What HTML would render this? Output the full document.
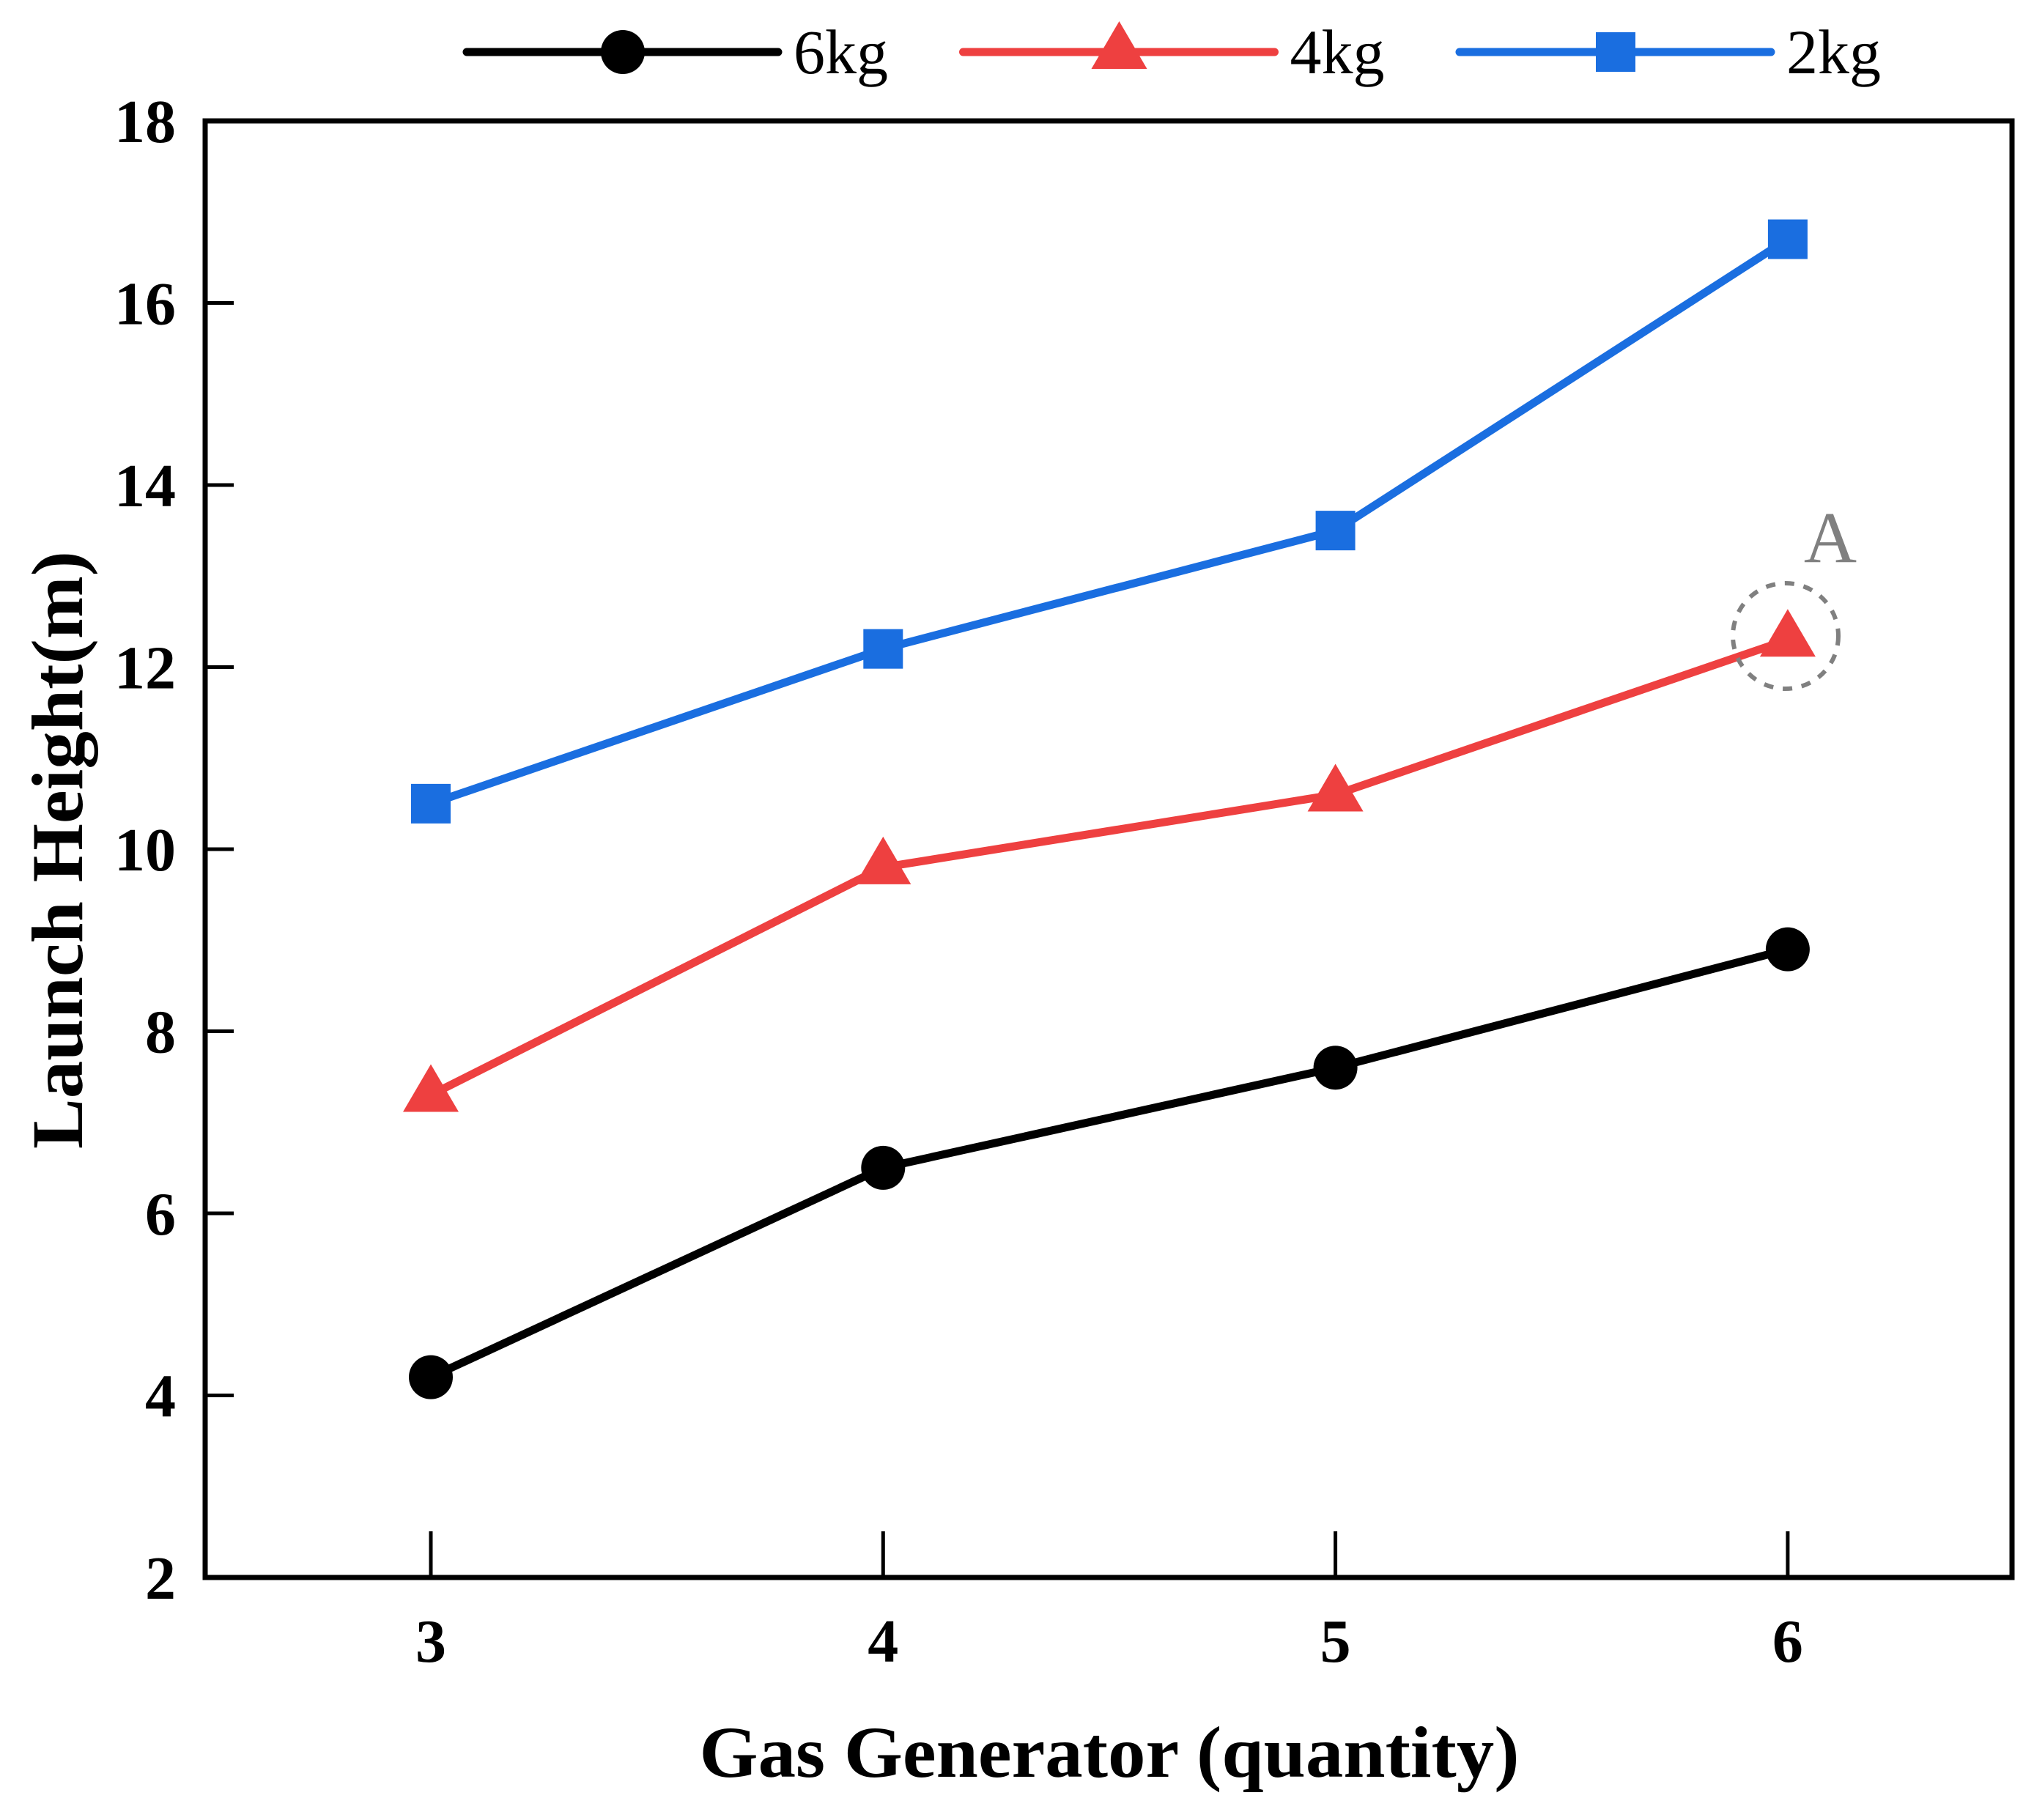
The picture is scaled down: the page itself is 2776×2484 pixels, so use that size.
<!DOCTYPE html>
<html><head><meta charset="utf-8">
<style>html,body{margin:0;padding:0;background:#fff;}svg{display:block;}svg text{font-family:"Liberation Serif", serif;}</style>
</head><body>
<svg id="chart" width="2776" height="2484" viewBox="0 0 2776 2484" xmlns="http://www.w3.org/2000/svg">
<rect x="0" y="0" width="2776" height="2484" fill="#fff"/>
<g id="plot"></g>
<rect x="280" y="165" width="2466" height="1988" fill="none" stroke="#000" stroke-width="7"/>
<text x="1514" y="2425" font-size="100" font-weight="bold" text-anchor="middle" textLength="1119" lengthAdjust="spacingAndGlyphs">Gas Generator (quantity)</text>
<text transform="translate(112,1160) rotate(-90)" font-size="100" font-weight="bold" text-anchor="middle" textLength="816" lengthAdjust="spacingAndGlyphs">Launch Height(m)</text>
<circle cx="2437" cy="868" r="72" fill="none" stroke="#808080" stroke-width="6" stroke-dasharray="13 13"/>
<text x="2498" y="767" font-size="100" fill="#808080" text-anchor="middle">A</text>
</svg>
<script>
const categories = [3, 4, 5, 6];
const series6kg = [4.2, 6.5, 7.6, 8.9];
const series4kg = [7.3, 9.8, 10.6, 12.3];
const series2kg = [10.5, 12.2, 13.5, 16.7];
const yTicks = [2, 4, 6, 8, 10, 12, 14, 16, 18];
const seriesNames = ["6kg", "4kg", "2kg"];

const NS = "http://www.w3.org/2000/svg";
const plot = document.getElementById("plot");
const svg = document.getElementById("chart");
function xs(v){ return 588 + (v - 3) * 617.3; }
function ys(v){ return 2153 - (v - 2) * 124.25; }
function mk(tag, attrs, parent){ const e = document.createElementNS(NS, tag); for (const k in attrs) e.setAttribute(k, attrs[k]); (parent||plot).appendChild(e); return e; }

yTicks.forEach(t => {
  const l = mk("line", {x1:280, x2:319, y1:ys(t), y2:ys(t), stroke:"#000", "stroke-width":5});
  
  
  const tx = mk("text", {x:240, y:ys(t)+29, "font-size":84, "font-weight":"bold", "text-anchor":"end"}, svg);
  tx.textContent = t;
  
  
});
categories.forEach(c => {
  const l = mk("line", {x1:xs(c), x2:xs(c), y1:2153, y2:2090, stroke:"#000", "stroke-width":5});
  
  
  const tx = mk("text", {x:xs(c), y:2268, "font-size":84, "font-weight":"bold", "text-anchor":"middle"}, svg);
  tx.textContent = c;
  
  
});

function marker(type, x, y, color, parent){
  let m;
  if (type === "circle") m = mk("circle", {cx:x, cy:y, r:30, fill:color}, parent);
  else if (type === "square") m = mk("rect", {x:x-27, y:y-27, width:54, height:54, fill:color}, parent);
  else m = mk("polygon", {points:`${x},${y-42} ${x+38},${y+23} ${x-38},${y+23}`, fill:color}, parent);
  return m;
}
const defs = [
  {vals: series6kg, color:"#000000", type:"circle"},
  {vals: series4kg, color:"#ee4040", type:"triangle"},
  {vals: series2kg, color:"#1a6ee0", type:"square"}
];
defs.forEach((d, i) => {
  const pts = categories.map((c, j) => xs(c) + "," + ys(d.vals[j])).join(" ");
  const pl = mk("polyline", {points:pts, fill:"none", stroke:d.color, "stroke-width":11, "stroke-linejoin":"round"});
  
  
  categories.forEach((c, j) => {
    const m = marker(d.type, xs(c), ys(d.vals[j]), d.color);
    
    
  });
  const lx = 637 + i * 677.5;
  const g = mk("g", {}, svg);
  
  
  mk("line", {x1:lx, x2:lx+425, y1:71, y2:71, stroke:d.color, "stroke-width":11, "stroke-linecap":"round"}, g);
  marker(d.type, lx+213, 71, d.color, g);
  const t = mk("text", {x:lx+446, y:100, "font-size":86}, g);
  t.textContent = seriesNames[i];
});
</script>
</body></html>
